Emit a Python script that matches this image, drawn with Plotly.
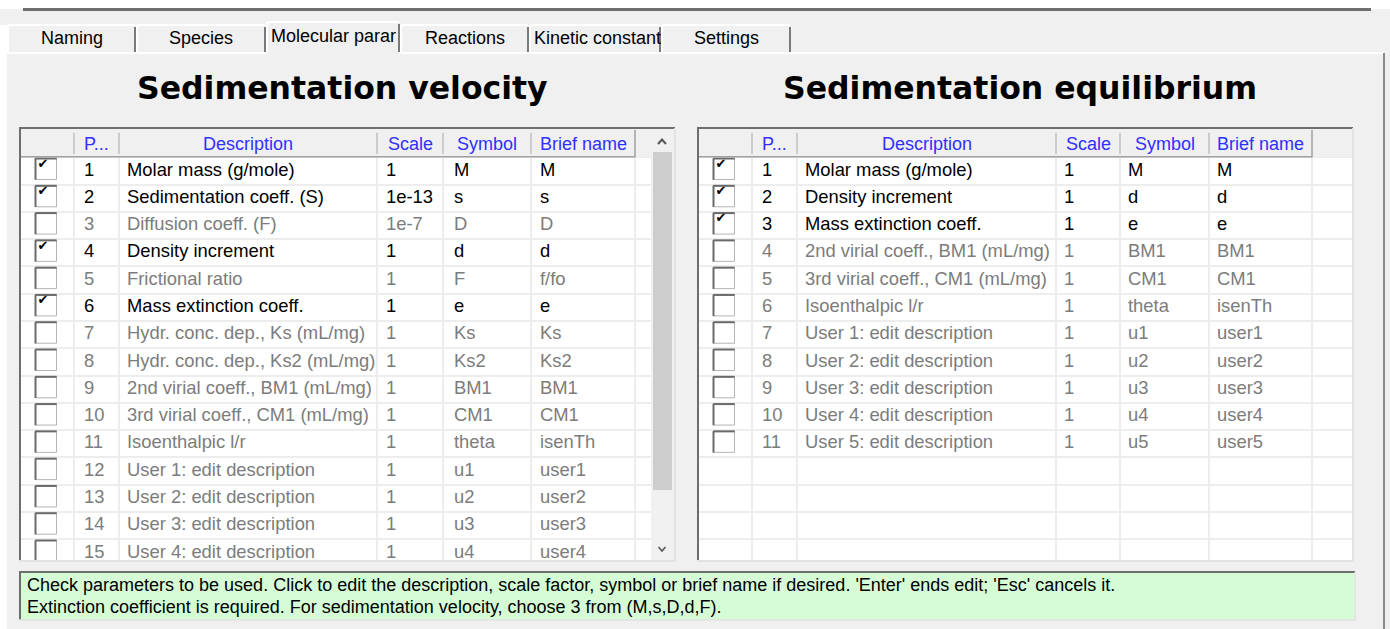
import plotly.graph_objects as go

W, H = 1390, 629

# ----------------------------------------
# Data
# ----------------------------------------

tab_names = ["Naming", "Species", "Molecular parar", "Reactions", "Kinetic constant", "Settings"]

header_labels = ["", "P...", "Description", "Scale", "Symbol", "Brief name"]

sv_title = "Sedimentation velocity"
sv_checked = [1, 1, 0, 1, 0, 1, 0, 0, 0, 0, 0, 0, 0, 0, 0]
sv_desc = [
    "Molar mass (g/mole)", "Sedimentation coeff. (S)", "Diffusion coeff. (F)",
    "Density increment", "Frictional ratio", "Mass extinction coeff.",
    "Hydr. conc. dep., Ks (mL/mg)", "Hydr. conc. dep., Ks2 (mL/mg)",
    "2nd virial coeff., BM1 (mL/mg)", "3rd virial coeff., CM1 (mL/mg)",
    "Isoenthalpic l/r", "User 1: edit description", "User 2: edit description",
    "User 3: edit description", "User 4: edit description",
]
sv_scale = ["1", "1e-13", "1e-7", "1", "1", "1", "1", "1", "1", "1", "1", "1", "1", "1", "1"]
sv_symbol = ["M", "s", "D", "d", "F", "e", "Ks", "Ks2", "BM1", "CM1", "theta", "u1", "u2", "u3", "u4"]
sv_brief = ["M", "s", "D", "d", "f/fo", "e", "Ks", "Ks2", "BM1", "CM1", "isenTh",
            "user1", "user2", "user3", "user4"]

se_title = "Sedimentation equilibrium"
se_checked = [1, 1, 1, 0, 0, 0, 0, 0, 0, 0, 0]
se_desc = [
    "Molar mass (g/mole)", "Density increment", "Mass extinction coeff.",
    "2nd virial coeff., BM1 (mL/mg)", "3rd virial coeff., CM1 (mL/mg)",
    "Isoenthalpic l/r", "User 1: edit description", "User 2: edit description",
    "User 3: edit description", "User 4: edit description", "User 5: edit description",
]
se_scale = ["1"] * 11
se_symbol = ["M", "d", "e", "BM1", "CM1", "theta", "u1", "u2", "u3", "u4", "u5"]
se_brief = ["M", "d", "e", "BM1", "CM1", "isenTh", "user1", "user2", "user3", "user4", "user5"]

status_lines = [
    "Check parameters to be used. Click to edit the description, scale factor, symbol or brief name if desired. 'Enter' ends edit; 'Esc' cancels it.",
    "Extinction coefficient is required. For sedimentation velocity, choose 3 from (M,s,D,d,F).",
]

# ----------------------------------------
# Styles
# ----------------------------------------

BG = "#f0f0f0"
DARK = "#6e6e6e"
LIGHT = "#e2e2e2"
GRID = "#ededed"
BLUE = "#2f2fff"
GRAY_TXT = "#7c7c7c"
FONT = "Liberation Sans"
N_ROWS_VIS = 14.76
ROW_PX = 27.3


def px(x):
    return x / W


def py(y):
    return 1 - y / H


shapes = []
annotations = []


def pline(x0, y0, x1, y1, color, width=1):
    shapes.append(dict(type="line", xref="paper", yref="paper",
                       x0=px(x0), y0=py(y0), x1=px(x1), y1=py(y1),
                       line=dict(color=color, width=width)))


def prect(x0, y0, x1, y1, fill):
    shapes.append(dict(type="rect", xref="paper", yref="paper",
                       x0=px(x0), y0=py(y0), x1=px(x1), y1=py(y1),
                       fillcolor=fill, line=dict(width=0), layer="below"))


def ppath(points, color, width=2):
    d = "M " + " L ".join(f"{px(a)},{py(b)}" for a, b in points)
    shapes.append(dict(type="path", xref="paper", yref="paper", path=d,
                       line=dict(color=color, width=width)))


def ptext(x, y, text, size=18, color="black", anchor="left", family=FONT, bold=False):
    if bold:
        text = f"<b>{text}</b>"
    annotations.append(dict(xref="paper", yref="paper", x=px(x), y=py(y), text=text,
                            showarrow=False, xanchor=anchor, yanchor="middle",
                            font=dict(family=family, size=size, color=color)))


fig = go.Figure()

# ----------------------------------------
# Window frame and tabs
# ----------------------------------------

prect(0, 0, W, 9, "white")
prect(0, 25, 7, H, "white")
pline(23, 9.5, 1371, 9.5, DARK, 3)
pline(7, 53, 266, 53, "white", 2)
pline(399, 53, 1384, 53, "white", 2)
pline(1384, 53, 1384, H, "#8a8a8a", 2)

tab_edges = [7, 136, 266, 400, 529, 661, 791]
tab_anchor = ["center", "center", "left", "center", "left", "center"]
for i, name in enumerate(tab_names):
    x0, x1 = tab_edges[i], tab_edges[i + 1]
    sel = name.startswith("Molecular")
    top = 22 if sel else 25
    pline(x0 + 1, top, x1 - 1, top, "white", 2)
    pline(x0 + 1, top, x0 + 1, 53, "white", 2)
    pline(x1 - 1, top + 2, x1 - 1, 52, "#7a7a7a", 2)
    tx = (x0 + x1) / 2 if tab_anchor[i] == "center" else x0 + 3
    ptext(tx, 36 if sel else 38, name, 18, "black", tab_anchor[i])

# titles
ptext(342, 88, sv_title, 31.5, "black", "center", "DejaVu Sans", bold=True)
ptext(1020, 88, se_title, 31.5, "black", "center", "DejaVu Sans", bold=True)

# ----------------------------------------
# Tables
# ----------------------------------------


def add_table(ax, left, right, col_edges, checked, desc, scale, symbol, brief,
              box_x, num_x, text_x):
    xa = "x" if ax == 1 else f"x{ax}"
    ya = "y" if ax == 1 else f"y{ax}"
    n = len(desc)
    rows = [i + 0.5 for i in range(n)]
    colors = ["black" if c else GRAY_TXT for c in checked]

    # header band (covers the grid), labels as annotations on top of it
    shapes.append(dict(type="rect", xref=xa, yref=ya, x0=left, x1=right, y0=-1, y1=0,
                       fillcolor=BG, line=dict(width=0), layer="above"))
    hdr_end = col_edges[-1]
    shapes.append(dict(type="line", xref=xa, yref=ya, x0=left, x1=hdr_end, y0=-0.02, y1=-0.02,
                       line=dict(color="#a0a0a0", width=1.5)))
    shapes.append(dict(type="line", xref=xa, yref=ya, x0=hdr_end, x1=hdr_end, y0=-1, y1=0,
                       line=dict(color="#a0a0a0", width=1.5)))
    for e in col_edges[:-1]:
        shapes.append(dict(type="line", xref=xa, yref=ya, x0=e, x1=e, y0=-0.9, y1=-0.12,
                           line=dict(color="#a8a8a8", width=1)))

    centers = [(a + b) / 2 for a, b in zip([left] + col_edges[:-1], col_edges)]
    for cx, lab in zip(centers[1:], header_labels[1:]):
        annotations.append(dict(xref=xa, yref=ya, x=cx, y=-0.5, text=lab, showarrow=False,
                                xanchor="center", yanchor="middle",
                                font=dict(family=FONT, size=18, color=BLUE)))

    # checkboxes: white box, then darker top/left edge for the sunken look
    box_y = [r - 0.07 for r in rows]
    half = 10.5
    fig.add_trace(go.Scatter(
        x=[box_x] * n, y=box_y, mode="markers",
        marker=dict(symbol="square", size=21, color="white",
                    line=dict(color="#b4b4b4", width=1)),
        xaxis=xa, yaxis=ya, hoverinfo="skip", showlegend=False))
    fig.add_trace(go.Scatter(
        x=[box_x] * n, y=[b - half / ROW_PX for b in box_y], mode="markers",
        marker=dict(symbol="line-ew", size=15.3, line=dict(color="#6a6a6a", width=2)),
        xaxis=xa, yaxis=ya, hoverinfo="skip", showlegend=False))
    fig.add_trace(go.Scatter(
        x=[box_x - half] * n, y=box_y, mode="markers",
        marker=dict(symbol="line-ns", size=15.3, line=dict(color="#6a6a6a", width=2)),
        xaxis=xa, yaxis=ya, hoverinfo="skip", showlegend=False))
    ticks = [i for i in range(n) if checked[i]]
    fig.add_trace(go.Scatter(
        x=[box_x - 3] * len(ticks), y=[i + 0.27 for i in ticks], text=["✔"] * len(ticks),
        mode="text", textposition="middle center",
        textfont=dict(family="DejaVu Sans", size=13, color="black"),
        xaxis=xa, yaxis=ya, hoverinfo="skip", showlegend=False))

    # cell texts
    cols = [[str(i + 1) for i in range(n)], desc, scale, symbol, brief]
    for xpos, vals in zip([num_x] + text_x, cols):
        fig.add_trace(go.Scatter(
            x=[xpos] * n, y=rows, text=vals, mode="text", textposition="middle right",
            textfont=dict(family=FONT, size=18.4, color=colors),
            xaxis=xa, yaxis=ya, hoverinfo="skip", showlegend=False, cliponaxis=True))

    axis_x = dict(domain=[px(left), px(right)], range=[left, right], tickvals=col_edges,
                  showgrid=True, gridcolor=GRID, gridwidth=2, zeroline=False,
                  showticklabels=False, ticks="", showline=False, fixedrange=True)
    axis_y = dict(domain=[py(560), py(130)], range=[N_ROWS_VIS, -1],
                  tickvals=list(range(0, 16)), showgrid=True, gridcolor=GRID, gridwidth=2,
                  zeroline=False, showticklabels=False, ticks="", showline=False,
                  fixedrange=True)
    axis_x["anchor"] = ya
    axis_y["anchor"] = xa
    key = "" if ax == 1 else str(ax)
    fig.update_layout(**{f"xaxis{key}": axis_x, f"yaxis{key}": axis_y})


add_table(1, 21, 651, [74, 119, 377, 443, 531, 635], sv_checked, sv_desc, sv_scale,
          sv_symbol, sv_brief, 46, 84, [127, 386, 454, 540])
add_table(2, 699, 1352, [752, 797, 1056, 1120, 1209, 1312], se_checked, se_desc, se_scale,
          se_symbol, se_brief, 724, 762, [805, 1064, 1128, 1217])

# table borders
for x0, x1 in [(19, 675), (697, 1353)]:
    pline(x0, 128, x1, 128, DARK, 2)
    pline(x0 + 1, 128, x0 + 1, 561, DARK, 2)
    pline(x1, 128, x1, 561, LIGHT, 2)
    pline(x0, 561, x1, 561, LIGHT, 2)

# scrollbar
prect(652, 130, 673, 560, BG)
shapes.append(dict(type="rect", xref="paper", yref="paper", x0=px(653), x1=px(672),
                   y0=py(152), y1=py(490), fillcolor="#cdcdcd", line=dict(width=0)))
ppath([(658, 144), (662, 139.5), (666, 144)], "#555555", 2)
ppath([(658.5, 547), (662, 551), (665.5, 547)], "#555555", 1.5)

# ----------------------------------------
# Status box
# ----------------------------------------

shapes.append(dict(type="rect", xref="paper", yref="paper", x0=px(19), x1=px(1355),
                   y0=py(620), y1=py(572), fillcolor="#d5fcd5", line=dict(width=0)))
pline(19, 572, 1355, 572, DARK, 2)
pline(20, 572, 20, 620, DARK, 2)
pline(1355, 572, 1355, 620, LIGHT, 1.5)
pline(19, 620, 1355, 620, LIGHT, 1.5)
ptext(25, 585, status_lines[0], 18)
ptext(25, 607, status_lines[1], 18)

fig.update_layout(
    width=W,
    height=H,
    margin=dict(l=0, r=0, t=0, b=0),
    paper_bgcolor=BG,
    plot_bgcolor="white",
    shapes=shapes,
    annotations=annotations,
    showlegend=False,
)

fig.write_html("out.html", config={"displayModeBar": False},
               post_script="document.body.style.margin = '0px';")
